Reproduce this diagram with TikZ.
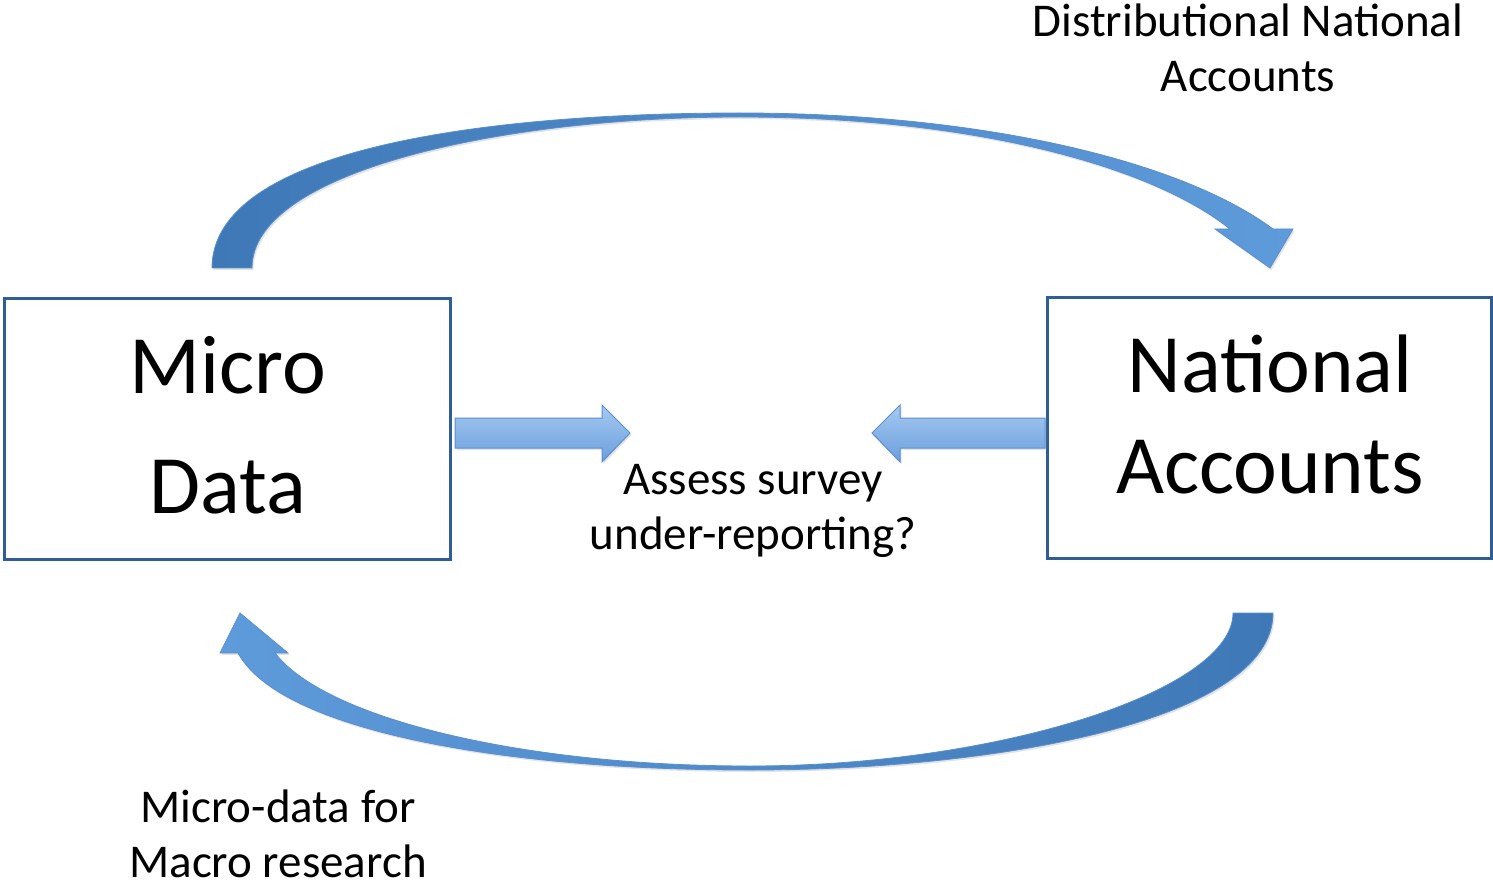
\documentclass[tikz,border=0pt]{standalone}
\usepackage{fontspec}
\setmainfont{Carlito}
\usetikzlibrary{shadows}

\definecolor{boxblue}{HTML}{2F5E97}
\definecolor{arrowedge}{HTML}{5A8FD0}
\definecolor{curvedark}{HTML}{3F78B6}
\definecolor{curvemid}{HTML}{8ABAEB}
\definecolor{curvehead}{HTML}{5E9BDB}
\definecolor{flattop}{HTML}{A6C9F0}
\definecolor{flatbot}{HTML}{6A9FDD}

\tikzset{
  databox/.style={draw=boxblue, line width=3pt, fill=white, rectangle, inner sep=0pt},
  bigtxt/.style={font=\fontsize{83}{100}\selectfont, anchor=base, inner sep=0pt},
  midtxt/.style={font=\fontsize{47}{56}\selectfont, anchor=base, inner sep=0pt},
  arrowshadow/.style={drop shadow={opacity=0.22, shadow xshift=1.5pt, shadow yshift=-2pt}},
  blockarrow/.style={draw=arrowedge, line width=1pt, line join=miter, top color=flattop, bottom color=flatbot, arrowshadow},
  curvearrow/.style={draw=arrowedge, line width=0.8pt, line join=miter, arrowshadow},
}

\begin{document}
\begin{tikzpicture}[x=1pt, y=-1pt]
\useasboundingbox (0,0) rectangle (1493,885);

% the two boxes
\node[databox, minimum width=446pt, minimum height=261pt] (micro) at (227,429) {};
\node[databox, minimum width=444pt, minimum height=261pt] (natacc) at (1269,427.5) {};

\node[bigtxt] (microA) at (228,393) {Micro};
\node[bigtxt] (microB) at (228,513) {Data};
\node[bigtxt] (natA) at (1270,392) {National};
\node[bigtxt] (natB) at (1270,493) {Accounts};

% curved arrow over the top: micro data -> national accounts
\path[curvearrow, left color=curvedark, middle color=curvemid, right color=curvehead]
  (212,268) -- (252,268)
  .. controls (252,172) and (500,117) .. (740,117)
  .. controls (970,117) and (1150,165) .. (1230,229)
  -- (1215,229) -- (1270,268) -- (1293,229) -- (1273,229)
  .. controls (1180,160) and (980,113) .. (740,113)
  .. controls (480,113) and (212,150) .. (212,268) -- cycle;

% curved arrow underneath: national accounts -> micro data
\path[curvearrow, left color=curvehead, middle color=curvemid, right color=curvedark]
  (1273,613) -- (1233,613)
  .. controls (1233,690) and (1000,766) .. (750,766)
  .. controls (520,766) and (325,718) .. (275,653)
  -- (288,653) -- (240,613) -- (220,653) -- (238,653)
  .. controls (280,730) and (500,770) .. (750,770)
  .. controls (1000,770) and (1273,720) .. (1273,613) -- cycle;

% straight arrows toward the question
\path[blockarrow]
  (455,418) -- (602,418) -- (602,405) -- (630,433) -- (602,462) -- (602,448) -- (455,448) -- cycle;
\path[blockarrow]
  (1045,418) -- (900,418) -- (900,405) -- (872,433) -- (900,462) -- (900,448) -- (1045,448) -- cycle;

% labels
\node[midtxt] (dnaA) at (1248,37) {Distributional National};
\node[midtxt] (dnaB) at (1248,92) {Accounts};
\node[midtxt] (assA) at (753,494) {Assess survey};
\node[midtxt] (assB) at (753,549) {under-reporting?};
\node[midtxt] (mmA) at (278,822) {Micro-data for};
\node[midtxt] (mmB) at (278,877) {Macro research};
\end{tikzpicture}
\end{document}
